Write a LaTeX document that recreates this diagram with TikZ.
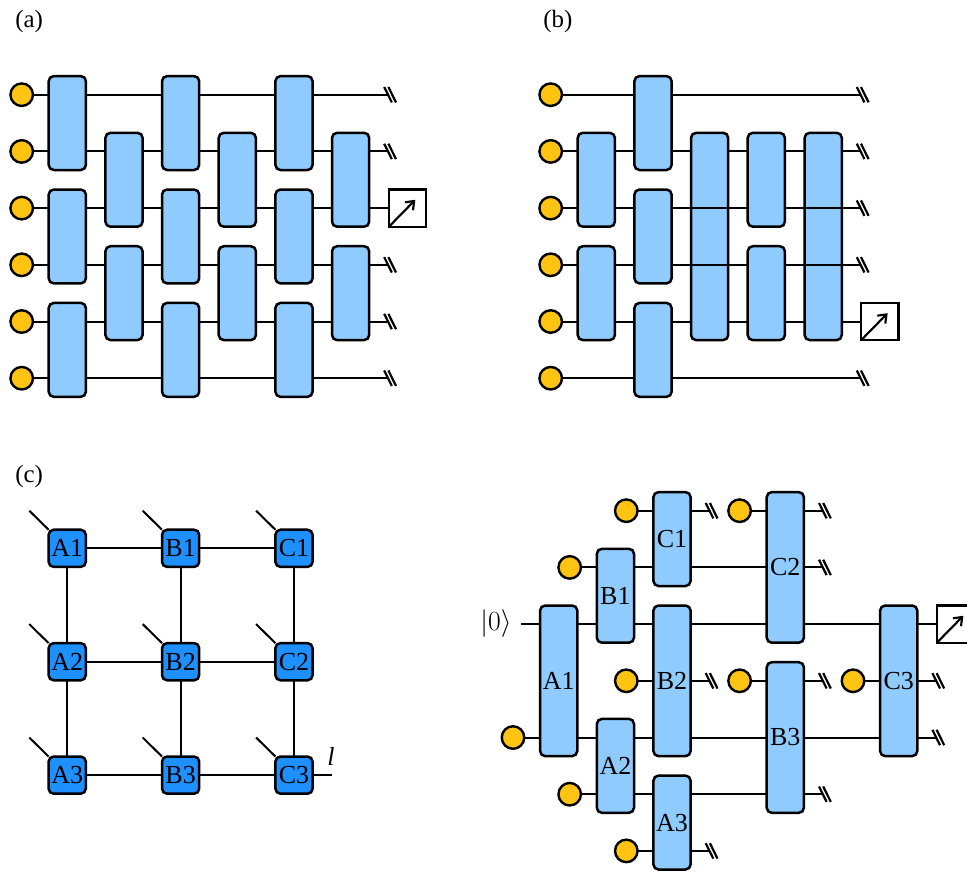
\documentclass[tikz,border=0pt]{standalone}
\usepackage{fontspec}
\setmainfont{Liberation Serif}
\usetikzlibrary{arrows.meta,backgrounds}
\definecolor{gatefill}{HTML}{8FCBFF}
\definecolor{sitefill}{HTML}{1E90FF}
\definecolor{qubitfill}{HTML}{FFC312}
\tikzset{
  gate/.style={draw=black,line width=1.875pt,rounded corners=3.8pt,fill=gatefill,inner sep=0pt,outer sep=0pt,minimum width=27.9pt,font=\fontsize{19.5pt}{20pt}\selectfont},
  site/.style={draw=black,line width=1.875pt,rounded corners=3.8pt,fill=sitefill,inner sep=0pt,outer sep=0pt,minimum width=27.9pt,minimum height=27.9pt,font=\fontsize{19.5pt}{20pt}\selectfont},
  qubit/.style={circle,draw=black,line width=1.8pt,fill=qubitfill,inner sep=0pt,outer sep=0pt,minimum size=16.9pt},
  meter/.style={draw=black,line width=1.875pt,fill=white,inner sep=0pt,outer sep=0pt,minimum size=28pt},
  wire/.style={line width=1.5pt,draw=black},
  cutline/.style={line width=1.65pt,draw=black},
  txtlabel/.style={inner sep=0pt,font=\fontsize{18.7pt}{20pt}\selectfont}
}
% \gatebox{base y}{name}{x}{first row}{last row}{text}
\newcommand{\gatebox}[6]{\node[gate,minimum height={(56.7*(#5-#4)+37.2)*0.75pt}] (#2) at (#3,{#1+56.7*((#4+#5)/2-1)}) {#6};}
\newcommand{\qubitat}[4]{\node[qubit] (#2) at (#3,{#1+56.7*(#4-1)}) {};}
\newcommand{\wireend}[4]{\coordinate (#2) at (#3,{#1+56.7*(#4-1)});}
\newcommand{\cutat}[1]{\draw[cutline,shift={(#1)}] (-3.8,-7.7)--(3.8,7.7) (0.4,-7.7)--(8,7.7);}
\newcommand{\meterat}[4]{\node[meter] (#2) at (#3,{#1+56.7*(#4-1)}) {};
  \draw[line width=1.6pt,-{Straight Barb[length=5.5pt,width=8.5pt]}] (#2.south west) -- ++(26.5,-27);}
\begin{document}
\begin{tikzpicture}[x=0.75pt,y=-0.75pt]
\useasboundingbox (0,0) rectangle (967,872);
\def\ya{94.7}
\def\yd{510.7}
\node[txtlabel,anchor=base west] (la) at (15,27) {(a)};
\node[txtlabel,anchor=base west] (lb) at (543,27) {(b)};
\node[txtlabel,anchor=base west] (lc) at (15,482) {(c)};
% ---------- panel a
\foreach \k in {1,...,6}{\qubitat{\ya}{aq\k}{21.7}{\k}}
\foreach \k in {1,2,4,5,6}{\wireend{\ya}{ae\k}{388}{\k}}
\gatebox{\ya}{a01}{67.3}{1}{2}{}
\gatebox{\ya}{a02}{67.3}{3}{4}{}
\gatebox{\ya}{a03}{67.3}{5}{6}{}
\gatebox{\ya}{a11}{124}{2}{3}{}
\gatebox{\ya}{a12}{124}{4}{5}{}
\gatebox{\ya}{a21}{180.6}{1}{2}{}
\gatebox{\ya}{a22}{180.6}{3}{4}{}
\gatebox{\ya}{a23}{180.6}{5}{6}{}
\gatebox{\ya}{a31}{237.3}{2}{3}{}
\gatebox{\ya}{a32}{237.3}{4}{5}{}
\gatebox{\ya}{a41}{294}{1}{2}{}
\gatebox{\ya}{a42}{294}{3}{4}{}
\gatebox{\ya}{a43}{294}{5}{6}{}
\gatebox{\ya}{a51}{350.6}{2}{3}{}
\gatebox{\ya}{a52}{350.6}{4}{5}{}
\meterat{\ya}{am}{407.5}{3}
\begin{pgfonlayer}{background}
\foreach \k in {1,2,4,5,6}{\draw[wire] (aq\k) -- (ae\k);}
\draw[wire] (aq3) -- (am);
\end{pgfonlayer}
\foreach \k in {1,2,4,5,6}{\cutat{ae\k}}
% ---------- panel b
\foreach \k in {1,...,6}{\qubitat{\ya}{bq\k}{550.7}{\k}}
\foreach \k in {1,2,3,4,6}{\wireend{\ya}{be\k}{860.6}{\k}}
\gatebox{\ya}{b11}{596.3}{2}{3}{}
\gatebox{\ya}{b12}{596.3}{4}{5}{}
\gatebox{\ya}{b21}{653}{1}{2}{}
\gatebox{\ya}{b22}{653}{3}{4}{}
\gatebox{\ya}{b23}{653}{5}{6}{}
\gatebox{\ya}{b31}{709.6}{2}{5}{}
\gatebox{\ya}{b41}{766.3}{2}{3}{}
\gatebox{\ya}{b42}{766.3}{4}{5}{}
\gatebox{\ya}{b51}{823.2}{2}{5}{}
\meterat{\ya}{bm}{879.8}{5}
\begin{pgfonlayer}{background}
\foreach \k in {1,2,3,4,6}{\draw[wire] (bq\k) -- (be\k);}
\draw[wire] (bq5) -- (bm);
\end{pgfonlayer}
\foreach \k in {1,2,3,4,6}{\cutat{be\k}}
\draw[wire] (b22.east |- be3) -- (b41.west |- be3);
\draw[wire] (b41.east |- be3) -- (b51.east |- be3);
\draw[wire] (b31.west |- be4) -- (b31.east |- be4);
\draw[wire] (b51.west |- be4) -- (b51.east |- be4);
% ---------- panel c
\foreach \c/\x in {A/67.2,B/180.6,C/294}{
  \foreach \r/\y in {1/548.3,2/661.7,3/775.1}{
    \node[site] (s\c\r) at (\x,\y) {\c\r};
    \coordinate (t\c\r) at (\x-37.9,\y-37.6);
    \draw[wire] (s\c\r.north west) -- (t\c\r);
  }
}
\coordinate (lend) at (331.5,775.1);
\node[txtlabel,anchor=base,font=\fontsize{19.5pt}{20pt}\selectfont\itshape] (ll) at (331,765) {l};
\begin{pgfonlayer}{background}
\foreach \c in {A,B,C}{
  \draw[wire] (s\c1) -- (s\c2);
  \draw[wire] (s\c2) -- (s\c3);
}
\foreach \r in {1,2,3}{
  \draw[wire] (sA\r) -- (sB\r);
  \draw[wire] (sB\r) -- (sC\r);
}
\draw[wire] (sC3) -- (lend);
\end{pgfonlayer}
% ---------- panel d
\gatebox{\yd}{dA1}{558.7}{3}{5}{A1}
\gatebox{\yd}{dB1}{615.4}{2}{3}{B1}
\gatebox{\yd}{dA2}{615.4}{5}{6}{A2}
\gatebox{\yd}{dC1}{672}{1}{2}{C1}
\gatebox{\yd}{dB2}{672}{3}{5}{B2}
\gatebox{\yd}{dA3}{672}{6}{7}{A3}
\gatebox{\yd}{dC2}{785.3}{1}{3}{C2}
\gatebox{\yd}{dB3}{785.3}{4}{6}{B3}
\gatebox{\yd}{dC3}{898.7}{3}{5}{C3}
\qubitat{\yd}{dq1}{626.3}{1}
\qubitat{\yd}{dq2}{739.6}{1}
\qubitat{\yd}{dq3}{569.7}{2}
\qubitat{\yd}{dq4}{626.3}{4}
\qubitat{\yd}{dq5}{739.6}{4}
\qubitat{\yd}{dq6}{853}{4}
\qubitat{\yd}{dq7}{513}{5}
\qubitat{\yd}{dq8}{569.7}{6}
\qubitat{\yd}{dq9}{626.3}{7}
\wireend{\yd}{de1}{709.5}{1}
\wireend{\yd}{de2}{822.8}{1}
\wireend{\yd}{de3}{822.8}{2}
\wireend{\yd}{de4}{709.5}{4}
\wireend{\yd}{de5}{822.8}{4}
\wireend{\yd}{de6}{936.2}{4}
\wireend{\yd}{de7}{936.2}{5}
\wireend{\yd}{de8}{822.8}{6}
\wireend{\yd}{de9}{709.5}{7}
\wireend{\yd}{dstart}{521}{3}
\meterat{\yd}{dm}{955.5}{3}
\node[txtlabel,anchor=center,font=\fontsize{20.74pt}{24pt}\selectfont] (ket) at (496,624) {$|0\rangle$};
\begin{pgfonlayer}{background}
\foreach \k in {1,...,9}{\draw[wire] (dq\k) -- (de\k);}
\draw[wire] (dstart) -- (dm);
\end{pgfonlayer}
\foreach \k in {1,...,9}{\cutat{de\k}}
\end{tikzpicture}
\end{document}
